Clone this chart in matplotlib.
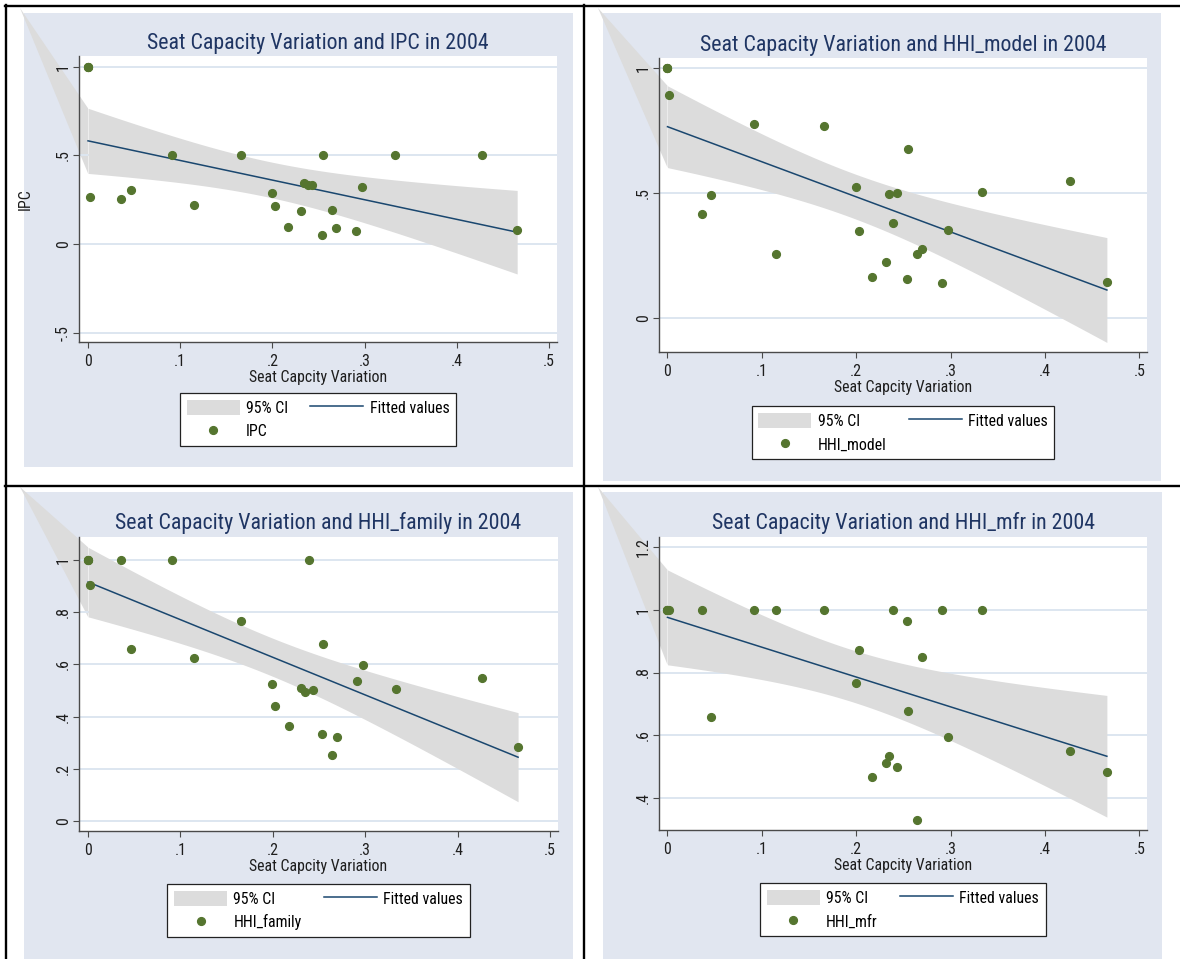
import numpy as np
import matplotlib
matplotlib.use("Agg")
import matplotlib.pyplot as plt
from matplotlib import font_manager
from matplotlib.patches import Rectangle, Polygon, Patch
from matplotlib.lines import Line2D

# ---------------- data ----------------
seat_var = [0.0000, 0.0000, 0.0000, 0.0016, 0.0361, 0.0465, 0.0913, 0.1147, 0.1661,
            0.1992, 0.2028, 0.2171, 0.2310, 0.2348, 0.2390, 0.2431, 0.2534, 0.2546,
            0.2641, 0.2691, 0.2911, 0.2977, 0.3333, 0.4269, 0.4655]

ipc = [1.000, 1.000, 1.000, 0.263, 0.252, 0.305, 0.500, 0.218, 0.500, 0.286, 0.212,
       0.094, 0.188, 0.346, 0.335, 0.331, 0.051, 0.500, 0.194, 0.088, 0.073, 0.321,
       0.500, 0.500, 0.079]

hhi_model = [1.000, 1.000, 1.000, 0.893, 0.416, 0.493, 0.777, 0.256, 0.767, 0.524,
             0.348, 0.162, 0.225, 0.495, 0.380, 0.500, 0.155, 0.676, 0.254, 0.275,
             0.140, 0.350, 0.503, 0.549, 0.142]

hhi_family = [1.000, 1.000, 1.000, 0.904, 1.000, 0.657, 1.000, 0.624, 0.765, 0.526,
              0.441, 0.366, 0.510, 0.496, 1.000, 0.501, 0.335, 0.677, 0.255, 0.323,
              0.535, 0.597, 0.505, 0.548, 0.286]

hhi_mfr = [1.000, 1.000, 1.000, 1.000, 1.000, 0.659, 1.000, 1.000, 1.000, 0.767,
           0.872, 0.468, 0.510, 0.533, 1.000, 0.500, 0.963, 0.676, 0.331, 0.851,
           1.000, 0.594, 1.000, 0.549, 0.482]

series_names = ["IPC", "HHI_model", "HHI_family", "HHI_mfr"]
titles = ["Seat Capacity Variation and IPC in 2004",
          "Seat Capacity Variation and HHI_model in 2004",
          "Seat Capacity Variation and HHI_family in 2004",
          "Seat Capacity Variation and HHI_mfr in 2004"]
x_title = "Seat Capcity Variation"

x_ticks = [0, 0.1, 0.2, 0.3, 0.4, 0.5]
x_tick_labels = ["0", ".1", ".2", ".3", ".4", ".5"]
ipc_ticks, ipc_tick_labels = [-0.5, 0, 0.5, 1], ["-.5", "0", ".5", "1"]
model_ticks, model_tick_labels = [0, 0.5, 1], ["0", ".5", "1"]
family_ticks, family_tick_labels = [0, 0.2, 0.4, 0.6, 0.8, 1], ["0", ".2", ".4", ".6", ".8", "1"]
mfr_ticks, mfr_tick_labels = [0.4, 0.6, 0.8, 1, 1.2], [".4", ".6", ".8", "1", "1.2"]

ci_label = "95% CI"
fit_label = "Fitted values"

# ---------------- font choice (condensed sans, like Arial Narrow) ----------------
fl = font_manager.fontManager.ttflist
all_names = {f.name for f in fl}


def pick_font():
    for n in ["Liberation Sans Narrow", "Arial Narrow", "Roboto Condensed",
              "Noto Sans Condensed", "Open Sans Condensed", "Noto Sans SemiCondensed",
              "Open Sans SemiCondensed"]:
        if n in all_names:
            return n, "normal"
    for fam in ["Roboto", "Noto Sans", "Open Sans", "DejaVu Sans", "Liberation Sans"]:
        for f in fl:
            if (f.name == fam and f.stretch in ("condensed", "semi-condensed")
                    and f.style == "normal" and f.weight in (400, "normal", "regular")):
                return fam, f.stretch
    return "Liberation Sans", "normal"


FONT, STRETCH = pick_font()
plt.rcParams["font.family"] = [FONT, "DejaVu Sans"]
plt.rcParams["font.stretch"] = STRETCH

BG = "#e1e6f0"
GRID = "#dde6f0"
CI_C = "#dcdcdc"
FIT_C = "#1a476f"
PT_C = "#55752f"
TITLE_C = "#1f3563"
AX_C = "#4a4a4a"
TXT_C = "#1e1e1e"

W, H = 1180, 959
fig = plt.figure(figsize=(W / 100, H / 100), dpi=100)
renderer = fig.canvas.get_renderer()


def fit_size(text, target_px):
    t = fig.text(0, 0, text, fontsize=20)
    w = t.get_window_extent(renderer).width
    t.remove()
    return 20 * target_px / w


TITLE_FS = fit_size(titles[0], 342)
LAB_FS = fit_size(x_title, 138)
LAB_PX = LAB_FS * 100 / 72


def fr(x, y):
    return x / W, 1 - y / H


def lfitci(x, y, n_grid=100):
    x = np.asarray(x, float)
    y = np.asarray(y, float)
    n = len(x)
    b, a = np.polyfit(x, y, 1)
    resid = y - (a + b * x)
    s = np.sqrt(resid @ resid / (n - 2))
    xg = np.linspace(x.min(), x.max(), n_grid)
    fit = a + b * xg
    se = s * np.sqrt(1 / n + (xg - x.mean()) ** 2 / ((x - x.mean()) ** 2).sum())
    t = 2.0687  # Student t(0.975, df=23)
    return xg, fit, fit - t * se, fit + t * se


panels = [
    dict(y=ipc, ticks=ipc_ticks, tl=ipc_tick_labels, ylabel="IPC",
         bg=(24, 13, 573, 467), ax=(79, 56, 557, 342), xlim=(-0.0098, 0.5087),
         ylim=(-0.553, 1.060), title_y=49.5, corner=(20, 8), leg_top=393),
    dict(y=hhi_model, ticks=model_ticks, tl=model_tick_labels, ylabel=None,
         bg=(603, 13, 1161, 481), ax=(659, 58, 1147, 352), xlim=(-0.009, 0.508),
         ylim=(-0.1375, 1.041), title_y=50.5, corner=(598, 8), leg_top=406),
    dict(y=hhi_family, ticks=family_ticks, tl=family_tick_labels, ylabel=None,
         bg=(24, 492, 573, 960), ax=(79, 537, 558, 831), xlim=(-0.0098, 0.5087),
         ylim=(-0.037, 1.087), title_y=529.5, corner=(20, 487), leg_top=884),
    dict(y=hhi_mfr, ticks=mfr_ticks, tl=mfr_tick_labels, ylabel=None,
         bg=(603, 492, 1162, 960), ax=(659, 537, 1147, 830), xlim=(-0.009, 0.508),
         ylim=(0.298, 1.232), title_y=529.5, corner=(598, 487), leg_top=883),
]

for i, p in enumerate(panels):
    x0, y0, x1, y1 = p["bg"]
    fig.add_artist(Rectangle(fr(x0, y1), (x1 - x0) / W, (y1 - y0) / H,
                             transform=fig.transFigure, facecolor=BG,
                             edgecolor="none", zorder=-5))
    ax0, ay0, ax1, ay1 = p["ax"]
    axw, axh = ax1 - ax0, ay1 - ay0
    ax = fig.add_axes([ax0 / W, 1 - ay1 / H, axw / W, axh / H])
    ax.set_facecolor("white")
    ax.set_xlim(*p["xlim"])
    ax.set_ylim(*p["ylim"])

    xg, fit, lo, hi = lfitci(seat_var, p["y"])
    ax.fill_between(xg, lo, hi, color=CI_C, lw=0, zorder=1)
    ax.plot(xg, fit, color=FIT_C, lw=1.1, zorder=2)
    ax.plot(seat_var, p["y"], "o", color=PT_C, ms=5.6, mec=PT_C, zorder=3)

    # rendering artefact of the CI area that reaches the panel corner
    inv = fig.transFigure.inverted()
    up = inv.transform(ax.transData.transform((xg[0], hi[0])))
    dn = inv.transform(ax.transData.transform((xg[0], lo[0])))
    ax.add_patch(Polygon([fr(*p["corner"]), up, dn], closed=True,
                         transform=fig.transFigure, clip_on=False,
                         facecolor=CI_C, edgecolor="none", zorder=0.3))

    ax.set_xticks(x_ticks)
    ax.set_xticklabels(x_tick_labels)
    ax.set_yticks(p["ticks"])
    ax.set_yticklabels(p["tl"], rotation=90, va="center")
    ax.set_axisbelow(True)
    ax.grid(axis="y", color=GRID, lw=1.4)
    for s in ("top", "right"):
        ax.spines[s].set_visible(False)
    for s in ("left", "bottom"):
        ax.spines[s].set_color(AX_C)
        ax.spines[s].set_linewidth(1.0)
    ax.tick_params(axis="both", direction="out", length=4.3, width=0.8,
                   color=AX_C, labelsize=LAB_FS, labelcolor=TXT_C)
    ax.tick_params(axis="x", pad=4.5)
    ax.tick_params(axis="y", pad=1.5)

    ax.set_xlabel(x_title, fontsize=LAB_FS, color=TXT_C, va="top")
    ax.xaxis.set_label_coords(0.5, -28 / axh)
    if p["ylabel"]:
        ax.set_ylabel(p["ylabel"], fontsize=LAB_FS, color=TXT_C, va="center")
        ax.yaxis.set_label_coords((25 - ax0) / axw, 0.5)

    cx = (ax0 + ax1) / 2
    fig.text(*fr(cx, p["title_y"]), titles[i], ha="center", va="baseline",
             fontsize=TITLE_FS, color=TITLE_C)

    handles = [Patch(facecolor=CI_C, edgecolor="none"),
               Line2D([], [], ls="none", marker="o", color=PT_C, ms=5.6),
               Line2D([], [], color=FIT_C, lw=1.1)]
    labels = [ci_label, series_names[i], fit_label]
    leg = fig.legend(handles, labels, ncol=2, loc="upper center",
                     bbox_to_anchor=fr(cx, p["leg_top"]), bbox_transform=fig.transFigure,
                     fontsize=LAB_FS, frameon=True, fancybox=False, framealpha=1,
                     edgecolor="#222222", borderpad=0.42, handlelength=53 / LAB_PX,
                     handleheight=17 / LAB_PX, handletextpad=0.4, columnspacing=1.4,
                     labelspacing=0.5, borderaxespad=0)
    leg.get_frame().set_linewidth(0.9)

# outer frame / dividers
for xs, ys in [((5, 1180), (6, 6)), ((6, 6), (5, 959)),
               ((584, 584), (5, 959)), ((5, 1180), (485.5, 485.5))]:
    fig.add_artist(Line2D([xs[0] / W, xs[1] / W], [1 - ys[0] / H, 1 - ys[1] / H],
                          transform=fig.transFigure, color="black", lw=1.7, zorder=10))

fig.savefig("out.png", dpi=100)
